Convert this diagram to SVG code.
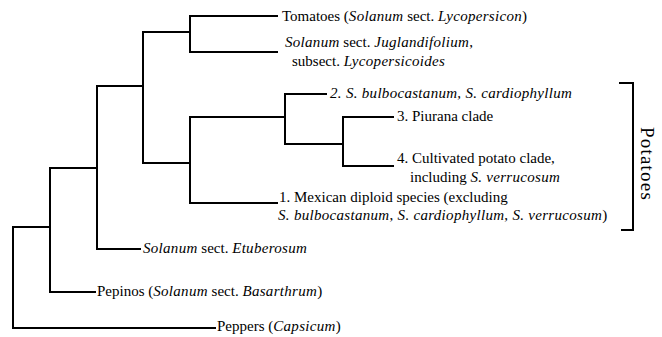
<svg xmlns="http://www.w3.org/2000/svg" width="662" height="337" viewBox="0 0 662 337">
<style>
.e{fill:none;stroke:#000;stroke-width:2;stroke-linecap:square;stroke-linejoin:miter}
.t{font-family:'Liberation Serif','DejaVu Serif',serif;font-size:15px;fill:#000}
.i{font-style:italic;letter-spacing:0.3px}
.n{font-style:normal}
</style>
<rect width="662" height="337" fill="#fff"/>
<g id="connectors">
<path class="e" d="M50,227 H13 V328 H215"/>
<path class="e" d="M97,168 H50 V292 H95"/>
<path class="e" d="M143,86 H97 V249 H140"/>
<path class="e" d="M190,32 H143 V163 H190"/>
<path class="e" d="M277,16 H190 V52 H277"/>
<path class="e" d="M285,117 H190 V203 H277"/>
<path class="e" d="M326,94 H285 V144 H343"/>
<path class="e" d="M393,117 H343 V166 H393"/>
<path class="e" d="M620,83 H633 V230 H622"/>
</g>
<g class="t" font-family="Liberation Serif, DejaVu Serif, serif">
<g id="tomatoes"><text x="282" y="21">Tomatoes (<tspan class="i">Solanum</tspan> sect. <tspan class="i">Lycopersicon</tspan>)</text></g>
<g id="juglandifolium"><text x="285" y="47"><tspan class="i">Solanum</tspan> sect. <tspan class="i">Juglandifolium</tspan>,</text><text x="292" y="66">subsect. <tspan class="i">Lycopersicoides</tspan></text></g>
<g id="clade2"><text class="i" x="330" y="98">2. S. bulbocastanum, S. cardiophyllum</text></g>
<g id="clade3"><text x="397" y="121">3. Piurana clade</text></g>
<g id="clade4"><text x="397" y="163">4. Cultivated potato clade,</text><text x="410" y="182">including <tspan class="i">S. verrucosum</tspan></text></g>
<g id="clade1"><text x="279" y="202">1. Mexican diploid species (excluding</text><text class="i" x="278" y="220">S. bulbocastanum<tspan class="n">, </tspan>S. cardiophyllum<tspan class="n">, </tspan>S. verrucosum<tspan class="n">)</tspan></text></g>
<g id="etuberosum"><text x="143" y="253"><tspan class="i">Solanum</tspan> sect. <tspan class="i">Etuberosum</tspan></text></g>
<g id="pepinos"><text x="97" y="296">Pepinos (<tspan class="i">Solanum</tspan> sect. <tspan class="i">Basarthrum</tspan>)</text></g>
<g id="peppers"><text x="217" y="331">Peppers (<tspan class="i">Capsicum</tspan>)</text></g>
<g id="potatoes"><text x="641" y="164" transform="rotate(90 641 164)" text-anchor="middle" style="font-size:19px;letter-spacing:1.2px">Potatoes</text></g>
</g>
</svg>
